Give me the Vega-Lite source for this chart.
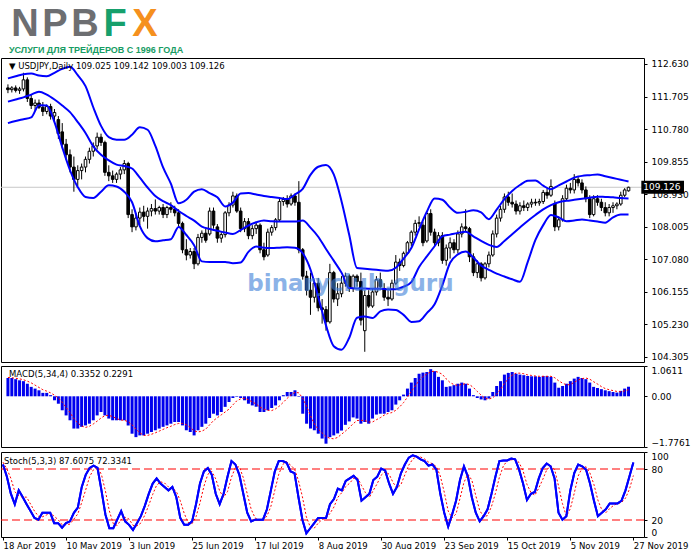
{
"$schema": "https://vega.github.io/schema/vega-lite/v6.json",
"padding": {"left": -2, "top": 0, "right": 0, "bottom": 0},
"background": "white",
"spacing": 2,
"config": {
  "view": {"stroke": "#000000", "strokeWidth": 1},
  "font": "DejaVu Sans",
  "axis": {"labelOverlap": false, "labelBound": false, "labelSeparation": 0}
},
"datasets": {
  "logo": [
    {"ch": "N", "grp": "g"}, {"ch": "P", "grp": "g"}, {"ch": "B", "grp": "g"}, {"ch": "F", "grp": "f"}, {"ch": "X", "grp": "x"}
  ],
  "bars": [
{"i":0,"o":111.95,"h":112.05,"l":111.8,"c":111.9,"m":0.64,"s":0.66,"k":85.3,"d":88},
{"i":1,"o":111.9,"h":112.0,"l":111.82,"c":111.95,"m":0.64,"s":0.65,"k":71,"d":80},
{"i":2,"o":111.95,"h":112.02,"l":111.82,"c":111.88,"m":0.6,"s":0.63,"k":51,"d":69.1},
{"i":3,"o":111.88,"h":111.98,"l":111.78,"c":111.92,"m":0.56,"s":0.61,"k":38.6,"d":53.5},
{"i":4,"o":111.92,"h":112.38,"l":111.85,"c":112.18,"m":0.53,"s":0.58,"k":55,"d":48.2},
{"i":5,"o":112.18,"h":112.25,"l":111.55,"c":111.65,"m":0.44,"s":0.53,"k":47,"d":46.9},
{"i":6,"o":111.65,"h":111.75,"l":111.35,"c":111.45,"m":0.33,"s":0.47,"k":38.6,"d":46.9},
{"i":7,"o":111.45,"h":111.62,"l":111.3,"c":111.52,"m":0.27,"s":0.39,"k":30.5,"d":38.7},
{"i":8,"o":111.52,"h":111.62,"l":111.35,"c":111.4,"m":0.21,"s":0.31,"k":22.4,"d":30.5},
{"i":9,"o":111.4,"h":111.55,"l":111.15,"c":111.28,"m":0.12,"s":0.23,"k":20.4,"d":24.4},
{"i":10,"o":111.28,"h":111.48,"l":111.2,"c":111.42,"m":0.12,"s":0.18,"k":28.5,"d":23.8},
{"i":11,"o":111.42,"h":111.5,"l":111.05,"c":111.15,"m":0.04,"s":0.12,"k":28.5,"d":25.8},
{"i":12,"o":111.15,"h":111.35,"l":110.95,"c":111.25,"m":-0.14,"s":0.04,"k":28.5,"d":28.5},
{"i":13,"o":111.05,"h":111.15,"l":110.5,"c":110.65,"m":-0.26,"s":-0.06,"k":16.3,"d":24.4},
{"i":14,"o":110.7,"h":110.95,"l":110.25,"c":110.35,"m":-0.49,"s":-0.21,"k":16.3,"d":20.4},
{"i":15,"o":110.35,"h":110.5,"l":109.9,"c":110.05,"m":-0.67,"s":-0.39,"k":11,"d":14.5},
{"i":16,"o":110.05,"h":110.2,"l":109.55,"c":109.7,"m":-0.84,"s":-0.57,"k":16.3,"d":14.5},
{"i":17,"o":109.7,"h":110.0,"l":109.0,"c":109.35,"m":-1.13,"s":-0.78,"k":18.4,"d":15.2},
{"i":18,"o":109.35,"h":109.75,"l":109.15,"c":109.6,"m":-1.13,"s":-0.94,"k":28.5,"d":21.1},
{"i":19,"o":109.6,"h":109.8,"l":109.35,"c":109.7,"m":-1.07,"s":-1.04,"k":34.6,"d":27.2},
{"i":20,"o":109.7,"h":110.0,"l":109.55,"c":109.92,"m":-1.02,"s":-1.09,"k":58.9,"d":40.7},
{"i":21,"o":109.92,"h":110.25,"l":109.8,"c":110.15,"m":-0.96,"s":-1.05,"k":73.1,"d":55.5},
{"i":22,"o":110.15,"h":110.4,"l":110.0,"c":110.3,"m":-0.84,"s":-0.97,"k":81.2,"d":71.1},
{"i":23,"o":110.3,"h":110.68,"l":110.2,"c":110.55,"m":-0.67,"s":-0.87,"k":84,"d":79.4},
{"i":24,"o":110.55,"h":110.65,"l":110.3,"c":110.4,"m":-0.55,"s":-0.76,"k":81.2,"d":82.1},
{"i":25,"o":110.4,"h":110.45,"l":109.45,"c":109.55,"m":-0.67,"s":-0.68,"k":54.9,"d":73.4},
{"i":26,"o":109.55,"h":109.75,"l":109.3,"c":109.45,"m":-0.78,"s":-0.67,"k":26.5,"d":54.2},
{"i":27,"o":109.45,"h":109.6,"l":109.25,"c":109.35,"m":-0.84,"s":-0.71,"k":10.3,"d":30.6},
{"i":28,"o":109.35,"h":109.55,"l":109.25,"c":109.5,"m":-0.84,"s":-0.78,"k":10.3,"d":15.7},
{"i":29,"o":109.5,"h":109.7,"l":109.35,"c":109.62,"m":-0.84,"s":-0.83,"k":20.4,"d":13.7},
{"i":30,"o":109.62,"h":109.9,"l":109.5,"c":109.8,"m":-0.84,"s":-0.84,"k":30.5,"d":20.4},
{"i":31,"o":109.8,"h":109.85,"l":108.25,"c":108.35,"m":-1.02,"s":-0.89,"k":18.4,"d":23.1},
{"i":32,"o":108.35,"h":108.5,"l":107.85,"c":108.0,"m":-1.31,"s":-1.0,"k":14.3,"d":21.1},
{"i":33,"o":108.0,"h":108.4,"l":107.9,"c":108.25,"m":-1.43,"s":-1.15,"k":8.3,"d":13.7},
{"i":34,"o":108.25,"h":108.55,"l":108.05,"c":108.42,"m":-1.37,"s":-1.28,"k":16.3,"d":13.0},
{"i":35,"o":108.42,"h":108.6,"l":108.15,"c":108.3,"m":-1.37,"s":-1.37,"k":24.5,"d":16.4},
{"i":36,"o":108.3,"h":108.55,"l":107.95,"c":108.45,"m":-1.31,"s":-1.37,"k":36.6,"d":25.8},
{"i":37,"o":108.45,"h":108.65,"l":108.3,"c":108.52,"m":-1.25,"s":-1.33,"k":50.8,"d":37.3},
{"i":38,"o":108.52,"h":108.78,"l":108.35,"c":108.45,"m":-1.19,"s":-1.28,"k":62.9,"d":50.1},
{"i":39,"o":108.45,"h":108.6,"l":108.35,"c":108.55,"m":-1.13,"s":-1.22,"k":69,"d":60.9},
{"i":40,"o":108.55,"h":108.65,"l":108.25,"c":108.35,"m":-1.07,"s":-1.16,"k":62.9,"d":64.9},
{"i":41,"o":108.35,"h":108.6,"l":108.25,"c":108.55,"m":-1.02,"s":-1.1,"k":58.9,"d":63.6},
{"i":42,"o":108.55,"h":108.7,"l":108.4,"c":108.5,"m":-0.96,"s":-1.05,"k":54.9,"d":58.9},
{"i":43,"o":108.5,"h":108.6,"l":108.3,"c":108.4,"m":-0.9,"s":-0.99,"k":58.9,"d":57.6},
{"i":44,"o":108.4,"h":108.5,"l":108.0,"c":108.1,"m":-0.9,"s":-0.95,"k":46.8,"d":53.5},
{"i":45,"o":108.1,"h":108.15,"l":107.25,"c":107.35,"m":-1.02,"s":-0.95,"k":22.4,"d":42.7},
{"i":46,"o":107.35,"h":107.65,"l":107.05,"c":107.2,"m":-1.19,"s":-1.0,"k":14.3,"d":27.8},
{"i":47,"o":107.2,"h":107.4,"l":107.1,"c":107.3,"m":-1.25,"s":-1.09,"k":14.3,"d":17.0},
{"i":48,"o":107.3,"h":107.4,"l":106.8,"c":106.95,"m":-1.37,"s":-1.21,"k":18.4,"d":15.7},
{"i":49,"o":106.95,"h":107.8,"l":106.9,"c":107.7,"m":-1.19,"s":-1.25,"k":38.6,"d":23.8},
{"i":50,"o":107.7,"h":107.9,"l":107.55,"c":107.82,"m":-1.07,"s":-1.22,"k":62.9,"d":40.0},
{"i":51,"o":107.82,"h":107.95,"l":107.55,"c":107.62,"m":-0.96,"s":-1.15,"k":77.2,"d":59.6},
{"i":52,"o":107.8,"h":108.55,"l":107.75,"c":108.45,"m":-0.76,"s":-1.0,"k":81.2,"d":73.8},
{"i":53,"o":108.45,"h":108.55,"l":107.95,"c":108.05,"m":-0.61,"s":-0.85,"k":73.1,"d":77.2},
{"i":54,"o":108.0,"h":108.08,"l":107.55,"c":107.68,"m":-0.67,"s":-0.75,"k":50.8,"d":68.4},
{"i":55,"o":107.68,"h":107.85,"l":107.55,"c":107.78,"m":-0.55,"s":-0.65,"k":38.6,"d":54.2},
{"i":56,"o":107.78,"h":108.45,"l":107.7,"c":108.4,"m":-0.37,"s":-0.55,"k":50.8,"d":46.7},
{"i":57,"o":108.4,"h":108.7,"l":108.3,"c":108.62,"m":-0.2,"s":-0.45,"k":71.1,"d":53.5},
{"i":58,"o":108.62,"h":109.0,"l":108.55,"c":108.88,"m":-0.06,"s":-0.3,"k":89.3,"d":70.4},
{"i":59,"o":108.88,"h":108.95,"l":108.4,"c":108.45,"m":-0.02,"s":-0.16,"k":85.3,"d":81.9},
{"i":60,"o":108.45,"h":108.55,"l":107.85,"c":107.95,"m":-0.06,"s":-0.09,"k":73.1,"d":82.6},
{"i":61,"o":107.95,"h":108.25,"l":107.85,"c":108.15,"m":-0.14,"s":-0.07,"k":50.8,"d":69.7},
{"i":62,"o":108.15,"h":108.25,"l":107.65,"c":107.75,"m":-0.26,"s":-0.12,"k":28.5,"d":50.8},
{"i":63,"o":107.75,"h":108.05,"l":107.65,"c":107.95,"m":-0.32,"s":-0.2,"k":18.4,"d":32.6},
{"i":64,"o":107.95,"h":108.12,"l":107.8,"c":108.05,"m":-0.37,"s":-0.27,"k":20.4,"d":22.4},
{"i":65,"o":108.05,"h":108.1,"l":107.25,"c":107.35,"m":-0.55,"s":-0.38,"k":20.4,"d":19.7},
{"i":66,"o":107.35,"h":107.55,"l":107.05,"c":107.15,"m":-0.55,"s":-0.45,"k":20.4,"d":20.4},
{"i":67,"o":107.2,"h":107.95,"l":107.15,"c":107.85,"m":-0.49,"s":-0.49,"k":32.6,"d":24.5},
{"i":68,"o":107.85,"h":108.05,"l":107.75,"c":107.98,"m":-0.41,"s":-0.5,"k":54.9,"d":36.0},
{"i":69,"o":107.98,"h":108.25,"l":107.9,"c":108.2,"m":-0.32,"s":-0.44,"k":77.2,"d":54.9},
{"i":70,"o":108.2,"h":108.8,"l":108.15,"c":108.72,"m":-0.14,"s":-0.34,"k":89.3,"d":73.8},
{"i":71,"o":108.72,"h":108.85,"l":108.6,"c":108.78,"m":0.04,"s":-0.21,"k":89.3,"d":85.3},
{"i":72,"o":108.78,"h":108.9,"l":108.55,"c":108.65,"m":0.15,"s":-0.07,"k":87.3,"d":88.6},
{"i":73,"o":108.65,"h":108.95,"l":108.6,"c":108.88,"m":0.15,"s":0.05,"k":77.2,"d":84.6},
{"i":74,"o":108.88,"h":108.95,"l":108.6,"c":108.7,"m":0.21,"s":0.14,"k":75.1,"d":79.9},
{"i":75,"o":108.7,"h":109.3,"l":107.25,"c":107.35,"m":-0.02,"s":0.12,"k":46.8,"d":66.4},
{"i":76,"o":107.35,"h":107.4,"l":106.5,"c":106.6,"m":-0.61,"s":-0.07,"k":20.4,"d":47.4},
{"i":77,"o":106.6,"h":106.75,"l":106.05,"c":106.2,"m":-0.96,"s":-0.35,"k":4.3,"d":23.8},
{"i":78,"o":106.2,"h":106.7,"l":105.5,"c":106.0,"m":-1.13,"s":-0.68,"k":10.3,"d":11.7},
{"i":79,"o":106.0,"h":106.5,"l":105.85,"c":106.4,"m":-1.19,"s":-0.97,"k":16.3,"d":10.3},
{"i":80,"o":106.4,"h":106.55,"l":105.6,"c":105.7,"m":-1.31,"s":-1.15,"k":22.4,"d":16.3},
{"i":81,"o":105.7,"h":105.95,"l":105.25,"c":105.65,"m":-1.48,"s":-1.28,"k":22.4,"d":20.4},
{"i":82,"o":105.65,"h":105.75,"l":105.05,"c":105.3,"m":-1.66,"s":-1.41,"k":22.4,"d":22.4},
{"i":83,"o":105.3,"h":106.95,"l":105.25,"c":106.7,"m":-1.43,"s":-1.47,"k":38.6,"d":27.8},
{"i":84,"o":106.7,"h":106.75,"l":105.85,"c":105.95,"m":-1.37,"s":-1.49,"k":44.7,"d":35.2},
{"i":85,"o":105.95,"h":106.4,"l":105.75,"c":106.1,"m":-1.3,"s":-1.44,"k":56.9,"d":46.7},
{"i":86,"o":106.1,"h":106.6,"l":106.0,"c":106.4,"m":-1.2,"s":-1.33,"k":54.9,"d":52.2},
{"i":87,"o":106.4,"h":106.7,"l":106.3,"c":106.6,"m":-1.0,"s":-1.22,"k":66,"d":59.3},
{"i":88,"o":106.6,"h":106.65,"l":106.15,"c":106.25,"m":-0.88,"s":-1.1,"k":69,"d":63.3},
{"i":89,"o":106.25,"h":106.65,"l":106.15,"c":106.6,"m":-0.74,"s":-0.96,"k":72,"d":69.0},
{"i":90,"o":106.6,"h":106.65,"l":106.3,"c":106.45,"m":-0.78,"s":-0.85,"k":67,"d":69.3},
{"i":91,"o":106.45,"h":106.7,"l":105.2,"c":105.35,"m":-0.96,"s":-0.84,"k":42.7,"d":60.6},
{"i":92,"o":105.05,"h":106.2,"l":104.45,"c":106.05,"m":-0.9,"s":-0.85,"k":46.8,"d":52.2},
{"i":93,"o":106.05,"h":106.2,"l":105.7,"c":105.75,"m":-0.96,"s":-0.9,"k":50.8,"d":46.8},
{"i":94,"o":105.75,"h":106.25,"l":105.7,"c":106.15,"m":-0.78,"s":-0.9,"k":67,"d":54.9},
{"i":95,"o":106.15,"h":106.6,"l":106.05,"c":106.5,"m":-0.64,"s":-0.82,"k":71,"d":62.9},
{"i":96,"o":106.5,"h":106.7,"l":106.2,"c":106.3,"m":-0.61,"s":-0.75,"k":80.4,"d":72.8},
{"i":97,"o":106.25,"h":106.4,"l":105.9,"c":106.0,"m":-0.61,"s":-0.66,"k":78.4,"d":76.6},
{"i":98,"o":106.0,"h":106.25,"l":105.75,"c":105.95,"m":-0.55,"s":-0.6,"k":63,"d":73.9},
{"i":99,"o":105.95,"h":106.5,"l":105.9,"c":106.4,"m":-0.49,"s":-0.57,"k":50.8,"d":64.1},
{"i":100,"o":106.4,"h":107.2,"l":106.35,"c":107.0,"m":-0.29,"s":-0.49,"k":58.9,"d":57.6},
{"i":101,"o":107.0,"h":107.1,"l":106.75,"c":106.9,"m":-0.14,"s":-0.37,"k":75,"d":61.6},
{"i":102,"o":106.9,"h":107.3,"l":106.85,"c":107.25,"m":0.06,"s":-0.22,"k":85.3,"d":73.1},
{"i":103,"o":107.25,"h":107.6,"l":107.2,"c":107.55,"m":0.27,"s":-0.03,"k":93.4,"d":84.6},
{"i":104,"o":107.55,"h":107.9,"l":107.45,"c":107.85,"m":0.48,"s":0.17,"k":96.2,"d":91.6},
{"i":105,"o":107.85,"h":108.2,"l":107.75,"c":108.1,"m":0.64,"s":0.36,"k":94.6,"d":94.7},
{"i":106,"o":108.1,"h":108.3,"l":108.0,"c":108.12,"m":0.79,"s":0.55,"k":91.4,"d":94.1},
{"i":107,"o":108.05,"h":108.15,"l":107.45,"c":107.55,"m":0.83,"s":0.69,"k":89.3,"d":91.8},
{"i":108,"o":107.6,"h":108.45,"l":107.55,"c":108.38,"m":0.85,"s":0.78,"k":84,"d":88.2},
{"i":109,"o":108.38,"h":108.5,"l":107.75,"c":107.85,"m":0.95,"s":0.86,"k":85.3,"d":86.2},
{"i":110,"o":107.85,"h":107.95,"l":107.45,"c":107.55,"m":0.88,"s":0.88,"k":79.2,"d":82.8},
{"i":111,"o":107.55,"h":107.85,"l":107.45,"c":107.75,"m":0.68,"s":0.84,"k":50.8,"d":71.8},
{"i":112,"o":107.75,"h":107.85,"l":106.95,"c":107.05,"m":0.56,"s":0.77,"k":28.5,"d":52.8},
{"i":113,"o":107.05,"h":107.5,"l":106.9,"c":107.4,"m":0.33,"s":0.61,"k":12.3,"d":30.5},
{"i":114,"o":107.4,"h":107.7,"l":107.1,"c":107.55,"m":0.35,"s":0.48,"k":26.5,"d":22.4},
{"i":115,"o":107.55,"h":107.65,"l":107.25,"c":107.35,"m":0.39,"s":0.41,"k":42.7,"d":27.2},
{"i":116,"o":107.35,"h":107.9,"l":107.25,"c":107.8,"m":0.44,"s":0.38,"k":67.1,"d":45.4},
{"i":117,"o":107.8,"h":108.1,"l":107.7,"c":108.0,"m":0.48,"s":0.42,"k":83.2,"d":64.3},
{"i":118,"o":108.0,"h":108.5,"l":107.85,"c":107.95,"m":0.44,"s":0.44,"k":71.1,"d":73.8},
{"i":119,"o":107.95,"h":108.0,"l":107.0,"c":107.15,"m":0.27,"s":0.41,"k":46.8,"d":67.0},
{"i":120,"o":107.15,"h":107.25,"l":106.6,"c":106.7,"m":0.04,"s":0.31,"k":28.5,"d":48.8},
{"i":121,"o":106.7,"h":107.05,"l":106.55,"c":106.95,"m":-0.06,"s":0.17,"k":18.4,"d":31.2},
{"i":122,"o":106.95,"h":107.0,"l":106.45,"c":106.55,"m":-0.11,"s":0.04,"k":24.5,"d":23.8},
{"i":123,"o":106.55,"h":107.0,"l":106.5,"c":106.95,"m":-0.14,"s":-0.07,"k":32.6,"d":25.2},
{"i":124,"o":106.95,"h":107.3,"l":106.85,"c":107.2,"m":-0.08,"s":-0.1,"k":50.8,"d":36.0},
{"i":125,"o":107.2,"h":107.9,"l":107.15,"c":107.8,"m":0.15,"s":-0.05,"k":71.1,"d":51.5},
{"i":126,"o":107.8,"h":108.35,"l":107.7,"c":108.25,"m":0.36,"s":0.07,"k":89.3,"d":70.4},
{"i":127,"o":108.25,"h":108.6,"l":108.15,"c":108.5,"m":0.53,"s":0.24,"k":90.1,"d":83.5},
{"i":128,"o":108.5,"h":108.95,"l":108.4,"c":108.85,"m":0.76,"s":0.45,"k":90.1,"d":89.8},
{"i":129,"o":108.85,"h":109.0,"l":108.6,"c":108.7,"m":0.82,"s":0.62,"k":92.2,"d":90.8},
{"i":130,"o":108.7,"h":108.95,"l":108.55,"c":108.65,"m":0.85,"s":0.74,"k":91.4,"d":91.2},
{"i":131,"o":108.65,"h":108.75,"l":108.35,"c":108.45,"m":0.79,"s":0.81,"k":79.2,"d":87.6},
{"i":132,"o":108.45,"h":108.7,"l":108.35,"c":108.6,"m":0.76,"s":0.81,"k":63,"d":77.9},
{"i":133,"o":108.6,"h":108.75,"l":108.45,"c":108.55,"m":0.74,"s":0.79,"k":43.5,"d":61.9},
{"i":134,"o":108.55,"h":108.7,"l":108.45,"c":108.65,"m":0.71,"s":0.75,"k":50.8,"d":52.4},
{"i":135,"o":108.65,"h":108.8,"l":108.55,"c":108.7,"m":0.7,"s":0.73,"k":52.9,"d":49.1},
{"i":136,"o":108.7,"h":108.8,"l":108.6,"c":108.68,"m":0.7,"s":0.71,"k":69,"d":57.6},
{"i":137,"o":108.68,"h":108.8,"l":108.6,"c":108.72,"m":0.68,"s":0.7,"k":81.2,"d":67.7},
{"i":138,"o":108.72,"h":109.05,"l":108.65,"c":108.98,"m":0.71,"s":0.7,"k":86.5,"d":78.9},
{"i":139,"o":108.98,"h":109.1,"l":108.8,"c":108.9,"m":0.71,"s":0.7,"k":83.2,"d":83.6},
{"i":140,"o":108.9,"h":109.35,"l":108.85,"c":109.15,"m":0.68,"s":0.7,"k":69,"d":79.6},
{"i":141,"o":108.65,"h":108.75,"l":107.88,"c":108.0,"m":0.48,"s":0.65,"k":28.5,"d":60.2},
{"i":142,"o":108.0,"h":108.3,"l":107.9,"c":108.2,"m":0.3,"s":0.54,"k":20.4,"d":39.3},
{"i":143,"o":108.2,"h":108.9,"l":108.15,"c":108.8,"m":0.36,"s":0.46,"k":24.5,"d":24.5},
{"i":144,"o":108.8,"h":109.2,"l":108.75,"c":109.1,"m":0.44,"s":0.4,"k":54.9,"d":33.3},
{"i":145,"o":109.1,"h":109.25,"l":108.95,"c":109.05,"m":0.53,"s":0.41,"k":75.1,"d":51.5},
{"i":146,"o":109.05,"h":109.5,"l":108.95,"c":109.35,"m":0.62,"s":0.49,"k":85.3,"d":71.8},
{"i":147,"o":109.35,"h":109.45,"l":109.15,"c":109.25,"m":0.68,"s":0.57,"k":83.2,"d":81.2},
{"i":148,"o":109.25,"h":109.35,"l":108.95,"c":109.05,"m":0.64,"s":0.62,"k":79.2,"d":82.6},
{"i":149,"o":109.05,"h":109.15,"l":108.7,"c":108.8,"m":0.6,"s":0.64,"k":63,"d":75.1},
{"i":150,"o":108.8,"h":108.9,"l":108.25,"c":108.35,"m":0.48,"s":0.6,"k":42.7,"d":61.6},
{"i":151,"o":108.35,"h":108.9,"l":108.3,"c":108.8,"m":0.33,"s":0.51,"k":24.5,"d":43.4},
{"i":152,"o":108.8,"h":108.9,"l":108.6,"c":108.7,"m":0.29,"s":0.43,"k":28.5,"d":31.9},
{"i":153,"o":108.7,"h":108.8,"l":108.45,"c":108.55,"m":0.25,"s":0.34,"k":32.6,"d":28.5},
{"i":154,"o":108.55,"h":108.7,"l":108.3,"c":108.4,"m":0.21,"s":0.27,"k":39.5,"d":33.5},
{"i":155,"o":108.4,"h":108.65,"l":108.3,"c":108.55,"m":0.18,"s":0.23,"k":39.5,"d":37.2},
{"i":156,"o":108.55,"h":108.7,"l":108.4,"c":108.6,"m":0.15,"s":0.2,"k":39.5,"d":39.5},
{"i":157,"o":108.6,"h":108.7,"l":108.5,"c":108.65,"m":0.13,"s":0.17,"k":42.7,"d":40.6},
{"i":158,"o":108.65,"h":109.0,"l":108.6,"c":108.9,"m":0.19,"s":0.16,"k":54.9,"d":45.7},
{"i":159,"o":108.9,"h":109.1,"l":108.85,"c":109.05,"m":0.27,"s":0.19,"k":71.1,"d":56.2},
{"i":160,"o":109.025,"h":109.142,"l":109.003,"c":109.126,"m":0.3352,"s":0.2291,"k":87.6075,"d":72.3341}
  ],
  "bb": [
{"i":0,"u":112.22,"mid":111.56,"lo":110.95},{"i":2,"u":112.28,"mid":111.62,"lo":111.01},{"i":4,"u":112.34,"mid":111.68,"lo":111.06},{"i":6,"u":112.36,"mid":111.76,"lo":111.11},{"i":8,"u":112.3,"mid":111.84,"lo":111.46},{"i":10,"u":112.28,"mid":111.76,"lo":111.45},{"i":12,"u":112.38,"mid":111.62,"lo":110.98},{"i":14,"u":112.49,"mid":111.45,"lo":110.26},{"i":16,"u":112.55,"mid":111.26,"lo":109.61},{"i":18,"u":112.31,"mid":110.98,"lo":109.13},{"i":20,"u":112.0,"mid":110.67,"lo":108.85},{"i":22,"u":111.4,"mid":110.29,"lo":108.82},{"i":24,"u":110.87,"mid":110.05,"lo":109.0},{"i":26,"u":110.55,"mid":109.89,"lo":109.18},{"i":28,"u":110.48,"mid":109.77,"lo":109.15},{"i":30,"u":110.48,"mid":109.73,"lo":109.0},{"i":32,"u":110.62,"mid":109.66,"lo":108.7},{"i":34,"u":110.83,"mid":109.4,"lo":108.02},{"i":36,"u":110.76,"mid":109.12,"lo":107.68},{"i":38,"u":110.3,"mid":108.88,"lo":107.59},{"i":40,"u":109.69,"mid":108.73,"lo":107.62},{"i":42,"u":109.23,"mid":108.62,"lo":107.65},{"i":44,"u":108.67,"mid":108.45,"lo":108.0},{"i":46,"u":108.77,"mid":108.31,"lo":107.77},{"i":48,"u":109.0,"mid":108.18,"lo":107.48},{"i":50,"u":109.07,"mid":108.01,"lo":107.02},{"i":52,"u":108.96,"mid":107.94,"lo":107.0},{"i":54,"u":108.84,"mid":107.89,"lo":107.0},{"i":56,"u":108.58,"mid":107.84,"lo":107.0},{"i":58,"u":108.69,"mid":107.8,"lo":106.97},{"i":60,"u":108.95,"mid":107.91,"lo":106.99},{"i":62,"u":108.96,"mid":108.04,"lo":107.29},{"i":64,"u":108.92,"mid":108.13,"lo":107.44},{"i":66,"u":108.88,"mid":108.18,"lo":107.41},{"i":68,"u":108.85,"mid":108.16,"lo":107.4},{"i":70,"u":108.82,"mid":108.15,"lo":107.41},{"i":72,"u":108.79,"mid":108.15,"lo":107.42},{"i":74,"u":108.92,"mid":108.15,"lo":107.41},{"i":76,"u":109.08,"mid":108.18,"lo":107.25},{"i":78,"u":109.48,"mid":107.98,"lo":106.79},{"i":80,"u":109.71,"mid":107.72,"lo":106.01},{"i":82,"u":109.76,"mid":107.37,"lo":105.2},{"i":84,"u":109.49,"mid":107.04,"lo":104.61},{"i":86,"u":108.73,"mid":106.7,"lo":104.51},{"i":88,"u":107.77,"mid":106.26,"lo":104.85},{"i":90,"u":106.83,"mid":106.25,"lo":105.42},{"i":92,"u":106.81,"mid":106.25,"lo":105.45},{"i":94,"u":106.79,"mid":106.24,"lo":105.41},{"i":96,"u":106.77,"mid":106.24,"lo":105.6},{"i":98,"u":106.75,"mid":106.23,"lo":105.65},{"i":100,"u":106.84,"mid":106.23,"lo":105.64},{"i":102,"u":107.1,"mid":106.3,"lo":105.5},{"i":104,"u":107.4,"mid":106.43,"lo":105.3},{"i":106,"u":107.93,"mid":106.86,"lo":105.32},{"i":108,"u":108.43,"mid":107.16,"lo":105.55},{"i":110,"u":108.81,"mid":107.45,"lo":105.8},{"i":112,"u":108.77,"mid":107.73,"lo":106.34},{"i":114,"u":108.55,"mid":107.78,"lo":106.98},{"i":116,"u":108.4,"mid":107.83,"lo":107.22},{"i":118,"u":108.43,"mid":107.86,"lo":107.3},{"i":120,"u":108.47,"mid":107.73,"lo":107.13},{"i":122,"u":108.41,"mid":107.6,"lo":106.9},{"i":124,"u":108.22,"mid":107.49,"lo":106.78},{"i":126,"u":108.49,"mid":107.43,"lo":106.67},{"i":128,"u":108.79,"mid":107.6,"lo":106.59},{"i":130,"u":109.02,"mid":107.79,"lo":106.51},{"i":132,"u":109.19,"mid":107.98,"lo":106.44},{"i":134,"u":109.31,"mid":108.17,"lo":107.0},{"i":136,"u":109.32,"mid":108.34,"lo":107.63},{"i":138,"u":109.17,"mid":108.5,"lo":108.05},{"i":140,"u":109.07,"mid":108.62,"lo":108.34},{"i":142,"u":109.18,"mid":108.7,"lo":108.27},{"i":144,"u":109.29,"mid":108.74,"lo":108.16},{"i":146,"u":109.4,"mid":108.77,"lo":108.18},{"i":148,"u":109.45,"mid":108.8,"lo":108.21},{"i":150,"u":109.47,"mid":108.83,"lo":108.18},{"i":152,"u":109.49,"mid":108.86,"lo":108.15},{"i":154,"u":109.44,"mid":108.85,"lo":108.12},{"i":156,"u":109.39,"mid":108.84,"lo":108.27},{"i":158,"u":109.34,"mid":108.82,"lo":108.35},{"i":160,"u":109.29,"mid":108.81,"lo":108.35}
  ],
  "levels": [{"lv": 20}, {"lv": 80}]
},
"vconcat": [
  {
    "width": 150, "height": 42,
    "view": {"stroke": null},
    "data": {"name": "logo"},
    "title": {"text": "УСЛУГИ ДЛЯ ТРЕЙДЕРОВ С 1996 ГОДА", "orient": "bottom", "anchor": "start", "frame": "group", "color": "#179c63", "font": "Liberation Sans", "fontSize": 9, "fontWeight": "bold", "offset": 2, "dx": 8},
    "mark": {"type": "text", "font": "Liberation Sans", "fontSize": 38, "fontWeight": "bold", "baseline": "alphabetic", "dx": 9, "dy": -6.5},
    "encoding": {
      "x": {"field": "ch", "type": "ordinal", "sort": null, "axis": null},
      "y": {"datum": 0, "type": "quantitative", "scale": {"domain": [0, 1]}, "axis": null},
      "text": {"field": "ch"},
      "color": {"field": "grp", "type": "nominal", "legend": null, "scale": {"domain": ["g", "f", "x"], "range": ["#6d6e71", "#16a06c", "#f5901e"]}}
    }
  },
  {
    "width": 643, "height": 304,
    "layer": [
      {
        "data": {"values": [{}]},
        "mark": {"type": "rule", "color": "#c8c8c8", "strokeWidth": 1},
        "encoding": {"y": {"datum": 109.126, "type": "quantitative", "scale": {"domain": [104.16, 112.8], "nice": false, "zero": false},
                "axis": {"orient": "right", "title": null, "values": [104.305, 105.23, 106.155, 107.08, 108.005, 108.93, 109.855, 110.78, 111.705, 112.63], "tickCount": 50, "format": ".3f", "grid": false, "domain": false, "ticks": true, "tickSize": 3, "tickColor": "#000000", "labels": true, "labelOverlap": false, "labelBound": false, "labelColor": "#000000", "labelFont": "DejaVu Sans", "labelFontSize": 9, "labelPadding": 4}}}
      },
      {
        "data": {"name": "bars"},
        "mark": {"type": "rule", "color": "#000000", "strokeWidth": 1},
        "encoding": {
          "x": {"field": "i", "type": "quantitative", "scale": {"domain": [-0.5, 162.7], "nice": false, "zero": false}, "axis": null},
          "y": {"field": "l", "type": "quantitative", "scale": {"domain": [104.16, 112.8], "nice": false, "zero": false}},
          "y2": {"field": "h"}
        }
      },
      {
        "data": {"name": "bars"},
        "mark": {"type": "bar", "width": 2.6, "stroke": "#000000", "strokeWidth": 1},
        "encoding": {
          "x": {"field": "i", "type": "quantitative", "scale": {"domain": [-0.5, 162.7], "nice": false, "zero": false}, "axis": null},
          "y": {"field": "o", "type": "quantitative", "scale": {"domain": [104.16, 112.8], "nice": false, "zero": false}},
          "y2": {"field": "c"},
          "fill": {"condition": {"test": "datum.c >= datum.o", "value": "#ffffff"}, "value": "#000000"}
        }
      },
      {
        "data": {"name": "bb"},
        "mark": {"type": "line", "color": "#0000ff", "strokeWidth": 2, "interpolate": "monotone"},
        "encoding": {
          "x": {"field": "i", "type": "quantitative", "scale": {"domain": [-0.5, 162.7], "nice": false, "zero": false}, "axis": null},
          "y": {"field": "u", "type": "quantitative", "scale": {"domain": [104.16, 112.8], "nice": false, "zero": false}}
        }
      },
      {
        "data": {"name": "bb"},
        "mark": {"type": "line", "color": "#0000ff", "strokeWidth": 2, "interpolate": "monotone"},
        "encoding": {
          "x": {"field": "i", "type": "quantitative", "scale": {"domain": [-0.5, 162.7], "nice": false, "zero": false}, "axis": null},
          "y": {"field": "mid", "type": "quantitative", "scale": {"domain": [104.16, 112.8], "nice": false, "zero": false}}
        }
      },
      {
        "data": {"name": "bb"},
        "mark": {"type": "line", "color": "#0000ff", "strokeWidth": 2, "interpolate": "monotone"},
        "encoding": {
          "x": {"field": "i", "type": "quantitative", "scale": {"domain": [-0.5, 162.7], "nice": false, "zero": false}, "axis": null},
          "y": {"field": "lo", "type": "quantitative", "scale": {"domain": [104.16, 112.8], "nice": false, "zero": false}}
        }
      },
      {
        "data": {"values": [{"t": "binaryclub.guru"}]},
        "mark": {"type": "text", "font": "DejaVu Sans", "fontSize": 23, "fontWeight": "bold", "color": "#3f7fd8", "opacity": 0.6, "align": "center", "baseline": "middle"},
        "encoding": {
          "x": {"datum": 88.3, "type": "quantitative", "scale": {"domain": [-0.5, 162.7], "nice": false, "zero": false}, "axis": null},
          "y": {"datum": 106.37, "type": "quantitative", "scale": {"domain": [104.16, 112.8], "nice": false, "zero": false}},
          "text": {"field": "t"}
        }
      },
      {
        "data": {"values": [{"t": "▼ USDJPY,Daily  109.025 109.142 109.003 109.126"}]},
        "mark": {"type": "text", "font": "DejaVu Sans", "fontSize": 8.5, "color": "#000000", "align": "left", "baseline": "middle", "dx": 3},
        "encoding": {
          "x": {"datum": -0.5, "type": "quantitative", "scale": {"domain": [-0.5, 162.7], "nice": false, "zero": false}, "axis": null},
          "y": {"datum": 112.57, "type": "quantitative", "scale": {"domain": [104.16, 112.8], "nice": false, "zero": false}},
          "text": {"field": "t"}
        }
      },
      {
        "data": {"values": [{}]},
        "mark": {"type": "rect", "color": "#000000"},
        "encoding": {
          "x": {"datum": 163.3, "type": "quantitative", "scale": {"domain": [-0.5, 162.7], "nice": false, "zero": false}, "axis": null},
          "x2": {"datum": 174.3},
          "y": {"datum": 109.31, "type": "quantitative", "scale": {"domain": [104.16, 112.8], "nice": false, "zero": false}},
          "y2": {"datum": 108.94}
        }
      },
      {
        "data": {"values": [{"t": "109.126"}]},
        "mark": {"type": "text", "font": "DejaVu Sans", "fontSize": 9, "color": "#ffffff", "align": "left", "baseline": "middle", "dx": 2},
        "encoding": {
          "x": {"datum": 163.3, "type": "quantitative", "scale": {"domain": [-0.5, 162.7], "nice": false, "zero": false}, "axis": null},
          "y": {"datum": 109.126, "type": "quantitative", "scale": {"domain": [104.16, 112.8], "nice": false, "zero": false}},
          "text": {"field": "t"}
        }
      }
    ]
  },
  {
    "width": 643, "height": 81,
    "layer": [
      {
        "data": {"name": "bars"},
        "mark": {"type": "bar", "width": 3, "color": "#0000ee"},
        "encoding": {
          "x": {"field": "i", "type": "quantitative", "scale": {"domain": [-0.5, 162.7], "nice": false, "zero": false}, "axis": null},
          "y": {"field": "m", "type": "quantitative", "scale": {"domain": [-1.7761, 1.0611], "nice": false, "zero": false},
                "axis": {"orient": "right", "title": null, "values": [-1.7761, 0, 1.0611], "tickCount": 50, "labelExpr": "datum.value == 0 ? '0.00' : format(datum.value, '.4f')", "labelFlush": true, "labelOverlap": false, "grid": false, "domain": false, "ticks": true, "tickSize": 3, "tickColor": "#000000", "labels": true, "labelColor": "#000000", "labelFont": "DejaVu Sans", "labelFontSize": 9, "labelPadding": 4}},
          "y2": {"datum": 0}
        }
      },
      {
        "data": {"name": "bars"},
        "mark": {"type": "line", "color": "#ff0000", "strokeWidth": 1, "strokeDash": [2, 2]},
        "encoding": {
          "x": {"field": "i", "type": "quantitative", "scale": {"domain": [-0.5, 162.7], "nice": false, "zero": false}, "axis": null},
          "y": {"field": "s", "type": "quantitative", "scale": {"domain": [-1.7761, 1.0611], "nice": false, "zero": false}}
        }
      },
      {
        "data": {"values": [{"t": "MACD(5,34,4) 0.3352 0.2291"}]},
        "mark": {"type": "text", "font": "DejaVu Sans", "fontSize": 8.5, "color": "#000000", "align": "left", "baseline": "middle", "dx": 3},
        "encoding": {
          "x": {"datum": -0.5, "type": "quantitative", "scale": {"domain": [-0.5, 162.7], "nice": false, "zero": false}, "axis": null},
          "y": {"datum": 0.78, "type": "quantitative", "scale": {"domain": [-1.7761, 1.0611], "nice": false, "zero": false}},
          "text": {"field": "t"}
        }
      }
    ]
  },
  {
    "width": 643, "height": 85,
    "layer": [
      {
        "data": {"name": "bars"},
        "mark": {"type": "line", "color": "#0000ff", "strokeWidth": 2},
        "encoding": {
          "x": {"field": "i", "type": "quantitative", "scale": {"domain": [-0.5, 162.7], "nice": false, "zero": false},
                "axis": {"orient": "bottom", "title": null, "values": [0, 16, 32, 48, 64, 80, 96, 112, 128, 144, 160], "tickCount": 50, "labelExpr": "['18 Apr 2019','10 May 2019','3 Jun 2019','25 Jun 2019','17 Jul 2019','8 Aug 2019','30 Aug 2019','23 Sep 2019','15 Oct 2019','5 Nov 2019','27 Nov 2019'][round(datum.value / 16)]", "labelAlign": "left", "labelPadding": 1, "labelOverlap": false, "labelBound": false, "labelFlush": false, "grid": false, "domain": false, "ticks": true, "tickSize": 3, "tickColor": "#000000", "labels": true, "labelColor": "#000000", "labelFont": "DejaVu Sans", "labelFontSize": 8.5}},
          "y": {"field": "k", "type": "quantitative", "scale": {"domain": [0, 100], "nice": false, "zero": false},
                "axis": {"orient": "right", "title": null, "values": [0, 20, 80, 100], "tickCount": 50, "labelFlush": true, "labelOverlap": false, "grid": false, "domain": false, "ticks": true, "tickSize": 3, "tickColor": "#000000", "labels": true, "labelColor": "#000000", "labelFont": "DejaVu Sans", "labelFontSize": 9, "labelPadding": 4}}
        }
      },
      {
        "data": {"name": "levels"},
        "mark": {"type": "rule", "color": "#ff0000", "strokeWidth": 1, "strokeDash": [8, 4]},
        "encoding": {
          "y": {"field": "lv", "type": "quantitative", "scale": {"domain": [0, 100], "nice": false, "zero": false}}
        }
      },
      {
        "data": {"name": "bars"},
        "mark": {"type": "line", "color": "#ff0000", "strokeWidth": 1, "strokeDash": [2, 2]},
        "encoding": {
          "x": {"field": "i", "type": "quantitative", "scale": {"domain": [-0.5, 162.7], "nice": false, "zero": false}},
          "y": {"field": "d", "type": "quantitative", "scale": {"domain": [0, 100], "nice": false, "zero": false}}
        }
      },
      {
        "data": {"name": "bars"},
        "mark": {"type": "line", "color": "#0000ff", "strokeWidth": 2},
        "encoding": {
          "x": {"field": "i", "type": "quantitative", "scale": {"domain": [-0.5, 162.7], "nice": false, "zero": false}},
          "y": {"field": "k", "type": "quantitative", "scale": {"domain": [0, 100], "nice": false, "zero": false}}
        }
      },
      {
        "data": {"values": [{"t": "Stoch(5,3,3) 87.6075 72.3341"}]},
        "mark": {"type": "text", "font": "DejaVu Sans", "fontSize": 8.5, "color": "#000000", "align": "left", "baseline": "middle", "dx": 3},
        "encoding": {
          "x": {"datum": -0.5, "type": "quantitative", "scale": {"domain": [-0.5, 162.7], "nice": false, "zero": false}},
          "y": {"datum": 90, "type": "quantitative", "scale": {"domain": [0, 100], "nice": false, "zero": false}},
          "text": {"field": "t"}
        }
      }
    ]
  }
]
}
